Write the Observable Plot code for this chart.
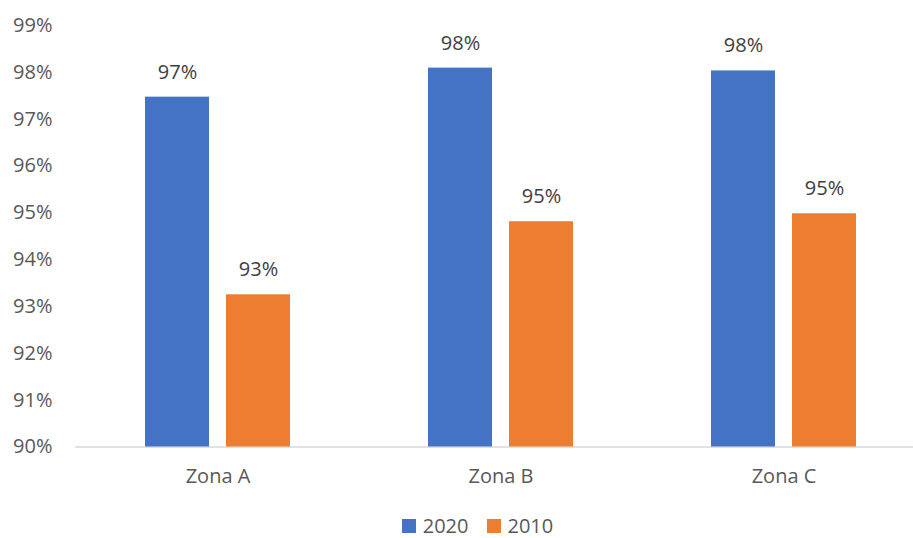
<!DOCTYPE html>
<html>
<head>
<meta charset="utf-8">
<script src="https://cdn.jsdelivr.net/npm/d3@7"></script>
<script src="https://cdn.jsdelivr.net/npm/@observablehq/plot@0.6"></script>
<style>
  body { margin: 0; background: #fff; font-family: "Open Sans", sans-serif; }
  #chart svg { display: block; }
  .legend { box-sizing: border-box; display: flex; justify-content: center; align-items: center; margin-left: 42px; height: 33px; padding-top: 9px; font-size: 20px; line-height: 20px; color: #595959; }
  .legend .item { display: flex; align-items: center; margin: 0 9px; }
  .legend .sw { width: 14px; height: 14px; margin-right: 7px; }
</style>
</head>
<body>
<div id="chart"></div>
<script>
const zones = ["Zona A", "Zona B", "Zona C"];
const series = ["2020", "2010"];
const values2020 = [97.47, 98.09, 98.03];
const values2010 = [93.25, 94.81, 94.98];
const yTicks = [90, 91, 92, 93, 94, 95, 96, 97, 98, 99];
const colors = ["#4472C4", "#ED7D31"];

const d2020 = zones.map((z, i) => ({zone: z, v: values2020[i]}));
const d2010 = zones.map((z, i) => ({zone: z, v: values2010[i]}));
const fmt = d => Math.round(d.v) + "%";

const chart = Plot.plot({
  width: 913,
  height: 505,
  marginLeft: 75,
  marginRight: -12,
  marginTop: 25,
  marginBottom: 58.5,
  style: {fontFamily: "Open Sans", fontSize: "20px", color: "#595959", background: "white"},
  x: {domain: zones, paddingInner: 0.488, paddingOuter: 0.244, tickSize: 0, tickPadding: 22, label: null},
  y: {domain: [90, 99], ticks: yTicks, tickFormat: d => d + "%", tickSize: 0, tickPadding: 23, label: null},
  marks: [
    Plot.ruleY([90], {stroke: "#d9d9d9", strokeWidth: 1.5}),
    Plot.barY(d2020, {x: "zone", y1: () => 90, y2: "v", fill: colors[0], insetRight: 81}),
    Plot.barY(d2010, {x: "zone", y1: () => 90, y2: "v", fill: colors[1], insetLeft: 81}),
    Plot.text(d2020, {x: "zone", y: "v", text: fmt, dx: -40.5, dy: -25, fill: "#404040", fontSize: 20}),
    Plot.text(d2010, {x: "zone", y: "v", text: fmt, dx: 40.5, dy: -25, fill: "#404040", fontSize: 20})
  ]
});
document.getElementById("chart").appendChild(chart);

const legend = document.createElement("div");
legend.className = "legend";
series.forEach((s, i) => {
  const item = document.createElement("div");
  item.className = "item";
  const sw = document.createElement("span");
  sw.className = "sw";
  sw.style.background = colors[i];
  const t = document.createElement("span");
  t.textContent = s;
  item.appendChild(sw);
  item.appendChild(t);
  legend.appendChild(item);
});
document.getElementById("chart").appendChild(legend);
</script>
</body>
</html>
